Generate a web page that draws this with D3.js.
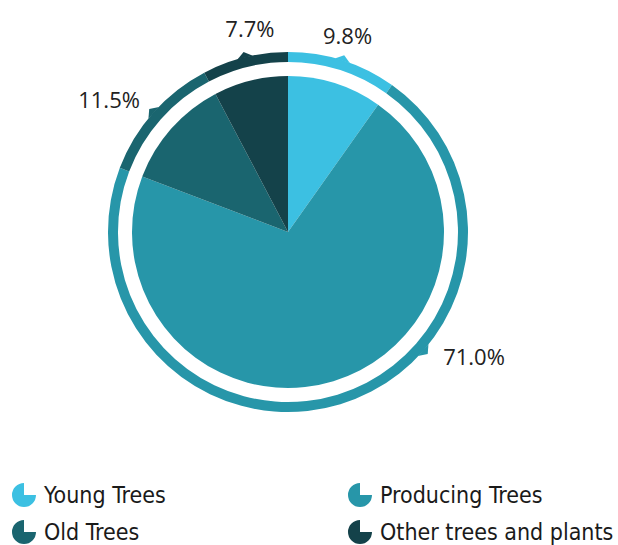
<!DOCTYPE html>
<html>
<head>
<meta charset="utf-8">
<script src="https://cdn.jsdelivr.net/npm/d3@7/dist/d3.min.js"></script>
<style>
html,body{margin:0;padding:0;background:#fff;}
svg{display:block;}
</style>
</head>
<body>
<svg id="chart" width="618" height="545"></svg>
<script>
// ---- data ----
const categories = ["Young Trees", "Producing Trees", "Old Trees", "Other trees and plants"];
const values = [9.8, 71.0, 11.5, 7.7];
const valueLabels = ["9.8%", "71.0%", "11.5%", "7.7%"];
const colors = ["#3cc0e2", "#2796a9", "#1a656f", "#14424a"];
// where along each slice the callout marker sits (fraction of the slice)
const markerAt = [0.5, 0.375, 0.5, 0.5];

// ---- layout ----
const cx = 288, cy = 232;
const pieR = 156, ringIn = 170, ringOut = 180;

const svg = d3.select("#chart");
const g = svg.append("g").attr("transform", `translate(${cx},${cy})`);

const pie = d3.pie().sort(null).value(d => d.value).startAngle(0).endAngle(2 * Math.PI);
const data = categories.map((c, i) => ({ name: c, value: values[i], label: valueLabels[i], color: colors[i], at: markerAt[i] }));
const arcs = pie(data);

const pieArc = d3.arc().innerRadius(0).outerRadius(pieR);
const ringArc = d3.arc().innerRadius(ringIn).outerRadius(ringOut);

g.selectAll("path.slice").data(arcs).enter().append("path")
  .attr("class", "slice")
  .attr("d", pieArc)
  .attr("fill", d => d.data.color);

g.selectAll("path.ring").data(arcs).enter().append("path")
  .attr("class", "ring")
  .attr("d", ringArc)
  .attr("fill", d => d.data.color);

// markers + labels
const ang = d => d.startAngle + (d.endAngle - d.startAngle) * d.data.at;

g.selectAll("path.marker").data(arcs).enter().append("path")
  .attr("class", "marker")
  .attr("d", `M-8,0 L0,-6 L8,0 Z`)
  .attr("fill", d => d.data.color)
  .attr("transform", d => {
    const deg = ang(d) * 180 / Math.PI;
    return `rotate(${deg}) translate(0,${-ringOut + 0.5})`;
  });

g.selectAll("text.lbl").data(arcs).enter().append("text")
  .attr("class", "lbl")
  .each(function (d) {
    const a = ang(d);
    const s = Math.sin(a), c = -Math.cos(a);
    let x, y, anchor;
    if (Math.abs(s) < 0.4) {
      anchor = "middle";
      x = ringOut * s + 5;
      y = ringOut * c - (s < 0 ? 29 : 25);
    } else {
      anchor = s > 0 ? "start" : "end";
      x = 198 * s + (s > 0 ? 6 : 0);
      y = 198 * c + (s > 0 ? -6 : -2);
    }
    d3.select(this)
      .attr("x", x)
      .attr("y", y)
      .attr("text-anchor", anchor)
      .attr("dominant-baseline", "central")
      .text(d.data.label);
  })
  .attr("font-family", "'Open Sans', 'Liberation Sans', sans-serif")
  .attr("font-weight", 400)
  .attr("font-size", 22)
  .attr("fill", "#222");

// ---- legend ----
const legendCols = [24, 360];
const legendRows = [495, 532];
const iconArc = d3.arc().innerRadius(0).outerRadius(12).startAngle(Math.PI / 2).endAngle(2 * Math.PI);

const lg = svg.selectAll("g.leg").data(data).enter().append("g")
  .attr("class", "leg")
  .attr("transform", (d, i) => `translate(${legendCols[i % 2]},${legendRows[Math.floor(i / 2)]})`);

lg.append("path").attr("d", iconArc()).attr("fill", d => d.color);
lg.append("text")
  .attr("x", 20)
  .attr("y", 0)
  .attr("dominant-baseline", "central")
  .attr("font-family", "'DejaVu Sans Condensed', 'DejaVu Sans', sans-serif")
  .attr("font-stretch", "condensed")
  .attr("font-size", 23)
  .attr("fill", "#1a1a1a")
  .text(d => d.name);
</script>
</body>
</html>
